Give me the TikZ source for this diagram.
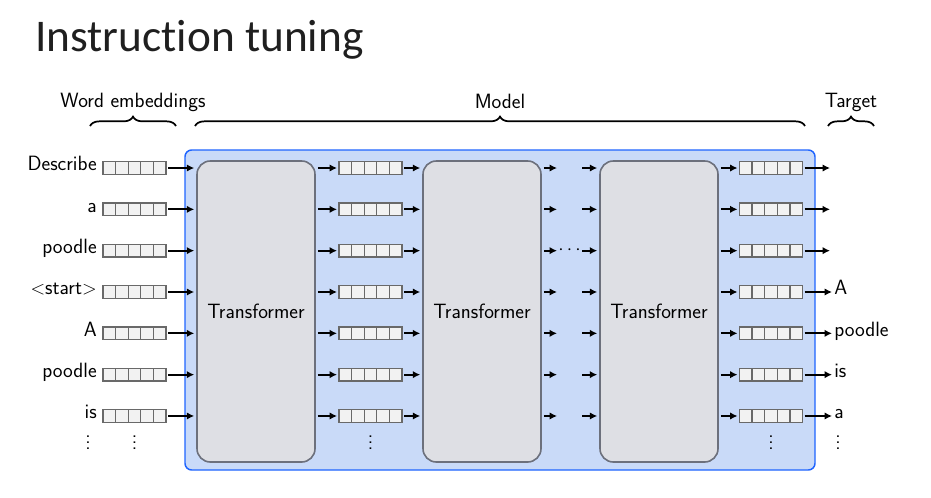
\documentclass[tikz,border=0pt]{standalone}
\usepackage{fontspec}
\newfontfamily\titlefont[Ligatures=NoCommon]{Carlito}
\usetikzlibrary{arrows.meta,decorations.pathreplacing,calc}
\definecolor{modelfill}{RGB}{201,218,248}
\definecolor{modeldraw}{RGB}{30,100,255}
\definecolor{tfill}{RGB}{222,223,228}
\definecolor{tdraw}{RGB}{108,112,124}
\definecolor{vfill}{RGB}{242,242,242}
\definecolor{vdraw}{RGB}{105,105,105}
\newcommand\colvdots{\vbox{\baselineskip4.6pt\lineskiplimit0pt\hbox{.}\hbox{.}\hbox{.}}}
\tikzset{
  vec/.style={draw=vdraw, fill=vfill, line width=1pt, inner sep=0pt, outer sep=0pt,
    minimum width=47.25pt, minimum height=9.4pt,
    path picture={\foreach \k in {1,...,4}{\draw[vdraw, line width=1pt]
      ($(path picture bounding box.south west)!\k/5!(path picture bounding box.south east)$) --
      ($(path picture bounding box.north west)!\k/5!(path picture bounding box.north east)$);}}},
  arr/.style={-{Latex[length=5.5pt,width=5.5pt]}, line width=1.4pt,
    shorten <=1.5pt, shorten >=1.5pt},
  tbox/.style={draw=tdraw, fill=tfill, line width=1.2pt, rounded corners=10pt,
    minimum width=88.5pt, minimum height=225.75pt, inner sep=0pt},
  modelbox/.style={draw=modeldraw, fill=modelfill, line width=1.1pt,
    rounded corners=5pt, minimum width=472.5pt, minimum height=240pt, inner sep=0pt},
  brc/.style={decorate, decoration={brace, amplitude=7pt}, line width=1.3pt},
  lbl/.style={inner sep=0pt},
  vd/.style={anchor=base, inner sep=0pt},
}
\begin{document}
\begin{tikzpicture}[x=0.75pt,y=-0.75pt,font=\sffamily\fontsize{15.5}{18}\selectfont]
\useasboundingbox (0,0) rectangle (931,497);
\node[anchor=base west, inner sep=0pt, font=\titlefont\fontsize{34}{40}\selectfont, text=black!88] (title) at (35,51) {Instruct\kern0pt ion tuning};

\node[modelbox] (model) at (500,310) {};
\node[tbox] (t1) at (256,311.5) {Transformer};
\node[tbox] (t2) at (482,311.5) {Transformer};
\node[tbox] (t3) at (659,311.5) {Transformer};

\foreach \w [count=\i from 0] in {Describe,a,poodle,{$<$start$>$},A,poodle,is} {
  \pgfmathsetmacro\yy{168+41.33*\i}
  \node[lbl, anchor=mid east] (w\i) at (97,\yy) {\w};
  \node[vec] (e\i) at (134.5,\yy) {};
  \draw[arr] (e\i.east) -- (e\i.east -| t1.west);
  \node[vec] (m\i) at (370.5,\yy) {};
  \draw[arr] (m\i.west -| t1.east) -- (m\i.west);
  \draw[arr] (m\i.east) -- (m\i.east -| t2.west);
  \coordinate (ga\i) at (559,\yy);
  \coordinate (gb\i) at (580,\yy);
  \draw[arr] (ga\i -| t2.east) -- (ga\i);
  \draw[arr] (gb\i) -- (gb\i -| t3.west);
  \node[vec] (r\i) at (771,\yy) {};
  \draw[arr] (r\i.west -| t3.east) -- (r\i.west);
}
\foreach \i in {0,1,2} {
  \coordinate (o\i) at (832,{168+41.33*\i});
  \draw[arr] (r\i.east) -- (o\i);
}
\foreach \t [count=\i from 3] in {A,poodle,is,a} {
  \node[lbl, anchor=mid west] (o\i) at (834,{168+41.33*\i}) {\t};
  \draw[arr] (r\i.east) -- (r\i.east -| o\i.west);
}
\node (cd) at (569.5,250.7) {$\cdots$};

\node[vd] (d1) at (88,449.5) {\colvdots};
\node[vd] (d2) at (134.5,449.5) {\colvdots};
\node[vd] (d3) at (370.5,449.5) {\colvdots};
\node[vd] (d4) at (771,449.5) {\colvdots};
\node[vd] (d5) at (838,449.5) {\colvdots};

\draw[brc] (90,126) coordinate (b1a) -- (176,126) coordinate (b1b);
\draw[brc] (195,126) coordinate (b2a) -- (805,126) coordinate (b2b);
\draw[brc] (828,126) coordinate (b3a) -- (874,126) coordinate (b3b);
\node[lbl, anchor=base] (lwe) at (133,107) {Word embeddings};
\node[lbl, anchor=base] (lmo) at (500,108) {Model};
\node[lbl, anchor=base] (lta) at (851,107) {Target};
\end{tikzpicture}
\end{document}
